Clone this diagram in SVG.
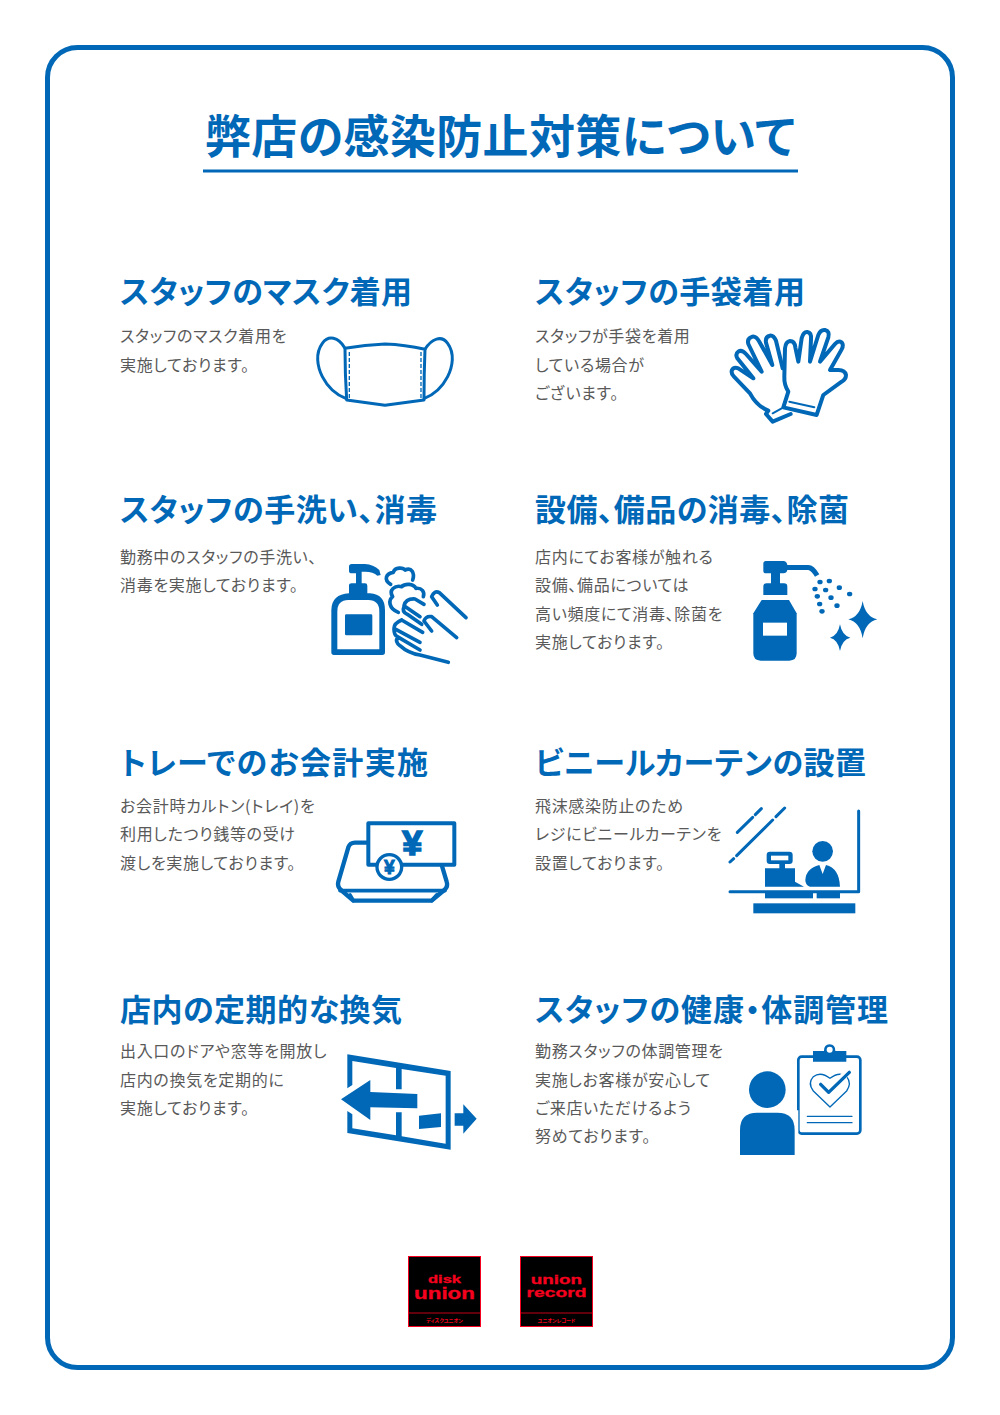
<svg xmlns="http://www.w3.org/2000/svg" width="1000" height="1415" viewBox="0 0 1000 1415">
<style>
text{font-family:"Noto Sans CJK JP","Noto Sans",sans-serif;font-feature-settings:"palt"}
.t{font-size:46px;font-weight:700;fill:#0068b7}
.h{font-size:31px;font-weight:700;fill:#0068b7}
.b{font-size:16px;fill:#595959;letter-spacing:.68px}
.s{fill:none;stroke:#0068b7;stroke-linecap:round;stroke-linejoin:round}
.f{fill:#0068b7}
.w{fill:#fff}
.lg{font-family:"Liberation Sans",Arial,sans-serif;font-weight:700;fill:#f5001e;stroke:#f5001e;stroke-width:.3px}
.lj{font-weight:700;fill:#f5001e;font-size:5px}
.y{font-family:"Liberation Sans",Arial,sans-serif;font-weight:700;stroke:#0068b7}
</style>
<rect x="47.500" y="47.500" width="905" height="1320" rx="30" fill="#fff" stroke="#0068b7" stroke-width="5"/>
<g id="title">
<text class="t" x="205" y="153" textLength="590">弊店の感染防止対策について</text>
<rect x="203" y="169.500" width="595" height="3" class="f"/>
</g>
<g id="mask">
<text class="h" x="120" y="303" textLength="292">スタッフのマスク着用</text>
<text class="b" x="120" y="342">スタッフのマスク着用を</text>
<text class="b" x="120" y="371">実施しております。</text>
<g transform="translate(300 320) scale(.3333)" class="s">
<path stroke-width="9" d="M135 85Q195 74 255 72Q315 74 375 88Q372 160 372 240L255 256L140 240Q135 160 135 85Z"/>
<path stroke-width="9" d="M135 85C115 50 85 45 67 70C45 100 52 140 67 170C85 205 110 225 137 235M375 88C395 55 425 45 443 70C465 100 458 140 443 170C425 205 400 225 373 235"/>
<path stroke-width="4" stroke-dasharray="12 6" stroke-linecap="butt" d="M148 96V236M363 96V236"/>
</g>
</g>
<g id="gloves">
<text class="h" x="535" y="303" textLength="270">スタッフの手袋着用</text>
<text class="b" x="535" y="342">スタッフが手袋を着用</text>
<text class="b" x="535" y="371">している場合が</text>
<text class="b" x="535" y="399">ございます。</text>
<g transform="translate(720 320) scale(.3333)" class="s" stroke-width="12">
<path d="M188 145L168 62Q160 45 150 47Q135 50 138 68L157 135L118 65Q108 48 97 50Q80 55 85 72L125 155L78 102Q65 88 55 95Q45 102 52 115L100 175L55 145Q42 140 36 150Q32 160 42 170L90 220Q110 258 145 272L138 282L158 305L212 282"/>
<path d="M190 262L205 215Q192 195 193 170L195 85Q197 65 210 63Q224 63 226 82L235 125L245 55Q250 35 262 36Q275 38 273 58L270 125L295 45Q302 28 315 30Q330 33 325 52L300 125L345 72Q355 60 365 67Q372 75 365 88L330 150L355 150Q375 150 378 165Q378 178 365 185L310 225L290 285Z"/>
<path stroke-width="6" d="M208 245L283 262M158 280L185 265"/>
</g>
</g>
<g id="handwash">
<text class="h" x="120" y="521" textLength="317">スタッフの手洗い、消毒</text>
<text class="b" x="120" y="563">勤務中のスタッフの手洗い、</text>
<text class="b" x="120" y="591">消毒を実施しております。</text>
<g transform="translate(320 555) scale(.3333)">
<path class="f" d="M87 35Q87 27 95 27H135Q160 28 178 45L182 60L172 62Q160 50 135 50H125V85H135Q142 85 142 92V115H150Q195 118 195 165V292Q195 300 187 300H42Q34 300 34 292V165Q35 118 87 115V92Q87 85 95 85H108V55H95Q87 55 87 47Z"/>
<path class="w" d="M52 170Q52 135 85 135H145Q178 135 178 170V283H52Z"/>
<rect class="f" x="75" y="178" width="82" height="63" rx="4"/>
<g class="s" stroke-width="11">
<path d="M212 88C190 75 198 55 220 52C225 35 250 38 255 45C275 35 285 55 278 75"/>
<path d="M235 172C205 160 205 135 218 125C205 105 225 90 245 95C255 85 280 85 288 100C305 98 315 110 310 125"/>
<path d="M438 188L358 113Q343 105 335 125L352 150M312 148L285 132Q258 130 252 152L300 185M410 248L335 185Q318 182 312 198L335 228M252 155Q245 170 262 178L305 208M245 195L308 232M245 195Q222 205 222 220L300 262M222 222Q222 240 232 245L300 285M232 248Q225 262 240 272Q265 295 300 300L385 322"/>
</g>
</g>
</g>
<g id="disinfect">
<text class="h" x="535" y="521" textLength="314">設備、備品の消毒、除菌</text>
<text class="b" x="535" y="563">店内にてお客様が触れる</text>
<text class="b" x="535" y="591">設備、備品については</text>
<text class="b" x="535" y="620">高い頻度にて消毒、除菌を</text>
<text class="b" x="535" y="648">実施しております。</text>
<g transform="translate(740 555) scale(.3333)" class="f">
<path d="M70 26Q70 18 78 18H130Q140 18 142 30H205Q222 30 238 58L225 65Q215 48 205 45H142Q140 55 130 55H120V85H132Q142 85 142 95V120H70V95Q70 85 80 85H93V55H78Q70 55 70 47Z"/>
<path d="M65 135H147L170 175V295Q170 317 148 317H62Q40 317 40 295V175Z"/>
<rect class="w" x="69" y="203" width="72" height="39"/>
<ellipse cx="240" cy="81" rx="8" ry="7"/><ellipse cx="268" cy="78" rx="8" ry="7"/><ellipse cx="225" cy="102" rx="8" ry="7"/><ellipse cx="257" cy="105" rx="8" ry="7"/><ellipse cx="298" cy="98" rx="8" ry="7"/><ellipse cx="232" cy="124" rx="8" ry="7"/><ellipse cx="273" cy="128" rx="8" ry="7"/><ellipse cx="329" cy="117" rx="8" ry="7"/><ellipse cx="239" cy="147" rx="8" ry="7"/><ellipse cx="291" cy="152" rx="8" ry="7"/><ellipse cx="246" cy="169" rx="8" ry="7"/>
<path d="M368 138Q376 185 412 193Q376 201 368 250Q360 201 325 193Q360 185 368 138Z"/>
<path d="M300 208Q306 242 331 248Q306 254 300 288Q294 254 270 248Q294 242 300 208Z"/>
</g>
</g>
<g id="tray">
<text class="h" x="120" y="774" textLength="308">トレーでのお会計実施</text>
<text class="b" x="120" y="812">お会計時カルトン(トレイ)を</text>
<text class="b" x="120" y="840">利用したつり銭等の受け</text>
<text class="b" x="120" y="869">渡しを実施しております。</text>
<g transform="translate(325 810) scale(.3333)">
<path class="s" stroke-width="13" d="M130 98H90Q75 98 70 112L40 215Q36 230 48 240L85 272H320L358 240Q370 230 365 215L350 165"/>
<path class="s" stroke-width="11" d="M45 242H360M85 272L75 255M320 272L335 255"/>
<rect x="130" y="40" width="258" height="124" fill="#fff" stroke="#0068b7" stroke-width="12" stroke-linejoin="round"/>
<circle cx="193" cy="171" r="37" fill="#fff" stroke="#0068b7" stroke-width="10"/>
<text x="262" y="136" text-anchor="middle" class="y f" stroke-width="5" font-size="108">¥</text>
<text x="193" y="192" text-anchor="middle" class="y f" stroke-width="3" font-size="58">¥</text>
</g>
</g>
<g id="curtain">
<text class="h" x="535" y="774" textLength="331">ビニールカーテンの設置</text>
<text class="b" x="535" y="812">飛沫感染防止のため</text>
<text class="b" x="535" y="840">レジにビニールカーテンを</text>
<text class="b" x="535" y="869">設置しております。</text>
<g transform="translate(720 800) scale(.3333)">
<g class="s" stroke-width="9">
<path d="M52 97L98 52M106 44L124 26M30 186L41 176M50 167L158 60M168 50L194 24M416 33V275H30"/>
</g>
<path class="f" d="M135 205H178V192H150Q140 192 140 182V165Q140 155 150 155H208Q218 155 218 165V182Q218 192 208 192H195V205H225V245L252 260H135Z"/>
<rect class="w" x="153" y="167" width="52" height="14"/>
<circle class="f" cx="308" cy="154" r="31"/>
<path class="f" d="M256 240Q258 205 298 195L308 222L318 195Q358 205 360 260H270Q256 255 256 240Z"/>
<rect class="f" x="135" y="278" width="144" height="17"/><rect class="f" x="290" y="278" width="70" height="17"/>
<rect class="f" x="100" y="310" width="306" height="30"/>
</g>
</g>
<g id="window">
<text class="h" x="120" y="1021" textLength="282">店内の定期的な換気</text>
<text class="b" x="120" y="1057">出入口のドアや窓等を開放し</text>
<text class="b" x="120" y="1086">店内の換気を定期的に</text>
<text class="b" x="120" y="1114">実施しております。</text>
<g transform="translate(330 1045) scale(.3333)">
<path class="f" fill-rule="evenodd" d="M52 28L362 78V314L52 264V198L67 208V250L198 271V202H215V274L347 296V92L215 72V133H198V69L67 48V120L52 130Z"/>
<path class="f" d="M33 163L121 105V141L262 147V190L121 187V225Z"/>
<path class="f" d="M267 212L333 205V246L267 252Z"/>
<path class="f" d="M374 205H400V178L440 221L400 266V242H374Z"/>
</g>
</g>
<g id="health">
<text class="h" x="535" y="1021" textLength="353">スタッフの健康・体調管理</text>
<text class="b" x="535" y="1057">勤務スタッフの体調管理を</text>
<text class="b" x="535" y="1086">実施しお客様が安心して</text>
<text class="b" x="535" y="1114">ご来店いただけるよう</text>
<text class="b" x="535" y="1142">努めております。</text>
<g transform="translate(730 1035) scale(.3333)">
<rect x="205" y="65" width="186" height="231" rx="10" fill="#fff" stroke="#0068b7" stroke-width="8"/>
<path class="f" d="M249 48H282Q282 28 299 28Q316 28 316 48H349V80H249Z"/>
<circle class="w" cx="299" cy="44" r="9"/>
<path class="s" stroke-width="4" d="M300 216L250 168Q232 145 250 125Q272 108 300 130Q328 108 350 125Q366 145 350 168Z"/>
<path fill="#fff" d="M265 150L300 185L365 112L350 100L300 150L280 135Z"/>
<path class="s" stroke-width="10" stroke-linecap="butt" d="M272 148L296 172L358 112"/>
<path class="s" stroke-width="4" d="M232 244H366M232 263H366"/>
<circle class="f" cx="112" cy="164" r="55"/>
<path fill="#fff" d="M22 226H205V366H22Z"/>
<path class="f" d="M30 360V285Q30 233 82 233H142Q194 233 194 285V360Z"/>
</g>
</g>
<g id="logo-disk">
<rect x="408.500" y="1256.500" width="72" height="70" fill="#000" stroke="#f5001e"/>
<path d="M409 1313H480" stroke="#f5001e" stroke-width=".8"/>
<text class="lg" transform="translate(444.500 1283) scale(1.5 1)" text-anchor="middle" font-size="11">disk</text>
<text class="lg" transform="translate(444.500 1299) scale(1.4 1)" text-anchor="middle" font-size="16">union</text>
<text class="lj" x="444.500" y="1322" text-anchor="middle">ディスクユニオン</text>
</g>
<g id="logo-record">
<rect x="520.500" y="1256.500" width="72" height="70" fill="#000" stroke="#f5001e"/>
<path d="M521 1313H592" stroke="#f5001e" stroke-width=".8"/>
<text class="lg" transform="translate(556.500 1284) scale(1.45 1)" text-anchor="middle" font-size="13">union</text>
<text class="lg" transform="translate(556.500 1297) scale(1.48 1)" text-anchor="middle" font-size="13">record</text>
<text class="lj" x="556.500" y="1322" text-anchor="middle">ユニオンレコード</text>
</g>
</svg>
